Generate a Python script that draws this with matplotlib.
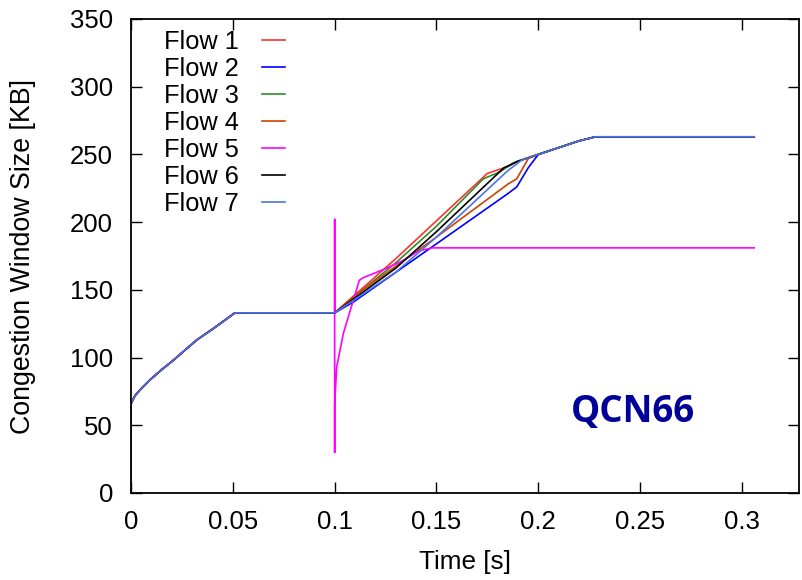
import matplotlib
matplotlib.use("Agg")
import matplotlib.pyplot as plt

# ---- data ----
labels = ["Flow 1", "Flow 2", "Flow 3", "Flow 4", "Flow 5", "Flow 6", "Flow 7"]
colors = ["#ff3030", "#0000ff", "#2e8b2e", "#cc4400", "#ff00ff", "#000000", "#4a74e8"]

# common start phase (all flows)
start_t = [0.0, 0.0, 0.002, 0.005, 0.0093, 0.015, 0.0208, 0.0265, 0.0323, 0.040, 0.046, 0.051, 0.100]
start_w = [5, 66, 72, 77, 83.5, 91, 98, 105.5, 113, 121, 127.5, 133, 133]

# common final phase
end_t = [0.200, 0.210, 0.220, 0.228, 0.306]
end_w = [250, 255, 260, 263, 263]

flow1_t = [0.100, 0.115, 0.130, 0.150, 0.175, 0.185, 0.190]
flow1_w = [133, 153, 173, 201, 236, 241, 245]
flow2_t = [0.100, 0.1092, 0.150, 0.185, 0.1894, 0.195]
flow2_w = [133, 141, 184, 221, 226, 240]
flow3_t = [0.100, 0.130, 0.150, 0.173, 0.181, 0.188]
flow3_w = [133, 170, 197, 232, 237, 244]
flow4_t = [0.100, 0.1092, 0.150, 0.185, 0.1894, 0.1951]
flow4_w = [133, 145, 189, 228, 232, 247]
flow6_t = [0.100, 0.130, 0.150, 0.183, 0.190]
flow6_w = [133, 166, 193, 240, 245]
flow7_t = [0.100, 0.130, 0.150, 0.185, 0.192]
flow7_w = [133, 163, 189, 238, 246]
flow5_t = [0.100, 0.100, 0.100, 0.100, 0.101, 0.1043, 0.1092, 0.1121, 0.114, 0.1174,
           0.1256, 0.134, 0.1403, 0.142, 0.148, 0.306]
flow5_w = [133, 202, 30, 65, 93, 118, 142.5, 157, 159, 161, 166, 172, 178, 179, 181, 181]

mid_t = [flow1_t, flow2_t, flow3_t, flow4_t, flow5_t, flow6_t, flow7_t]
mid_w = [flow1_w, flow2_w, flow3_w, flow4_w, flow5_w, flow6_w, flow7_w]

xticks = [0, 0.05, 0.1, 0.15, 0.2, 0.25, 0.3]
xticklabels = ["0", "0.05", "0.1", "0.15", "0.2", "0.25", "0.3"]
yticks = [0, 50, 100, 150, 200, 250, 300, 350]

plt.rcParams['font.family'] = ['Liberation Sans', 'DejaVu Sans']
fig = plt.figure(figsize=(8.03, 5.8), dpi=100)
ax = fig.add_axes([131/803, 1-493/580, (799-131)/803, (493-19)/580])

for i, (lab, c) in enumerate(zip(labels, colors)):
    if lab == "Flow 5":
        t = start_t + mid_t[i]
        w = start_w + mid_w[i]
    else:
        t = start_t + mid_t[i] + end_t
        w = start_w + mid_w[i] + end_w
    ax.plot(t, w, color=c, lw=1.2, label=lab)

ax.set_xlim(0, 0.328)
ax.set_ylim(0, 350)
ax.set_xticks(xticks)
ax.set_xticklabels(xticklabels)
ax.set_yticks(yticks)
ax.tick_params(direction='in', top=True, right=True, length=8, width=1,
               labelsize=18.5)
ax.tick_params(axis='x', pad=12)
ax.tick_params(axis='y', pad=13)
for s in ax.spines.values():
    s.set_linewidth(1.3)
ax.set_xlabel("Time [s]", fontsize=18.8, labelpad=12)
ax.set_ylabel("Congestion Window Size [KB]", fontsize=19.3, labelpad=24)

leg = ax.legend(loc='upper left', bbox_to_anchor=(33/668, 1-11/474), frameon=False,
                markerfirst=False, fontsize=18.3, handlelength=0.92,
                labelspacing=0.12, handletextpad=0.9, borderaxespad=0, borderpad=0)

ax.text(0.7515, 0.171, "QCN66", transform=ax.transAxes, ha='center', va='center',
        fontsize=26.5, fontweight='bold', color='#000099', family=['Open Sans', 'DejaVu Sans'])

fig.savefig("out.png", dpi=100)
